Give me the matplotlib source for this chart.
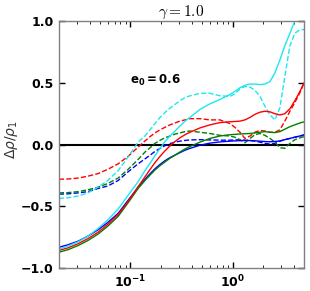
import matplotlib
matplotlib.use('Agg')
import matplotlib.pyplot as plt
import numpy as np
from matplotlib.ticker import FuncFormatter, LogLocator

# x grid (log scale)
x = [0.020, 0.0245, 0.031, 0.0385, 0.048, 0.060, 0.076, 0.095, 0.119, 0.139,
     0.156, 0.174, 0.195, 0.218, 0.244, 0.273, 0.305, 0.342, 0.383, 0.479,
     0.600, 0.751, 0.941, 1.05, 1.18, 1.32, 1.48, 1.65, 1.85, 2.07,
     2.32, 2.59, 2.90, 3.24, 3.63, 4.06, 4.55, 5.0]

# solid curves
blue_solid = [-0.83, -0.81, -0.78, -0.74, -0.69, -0.63, -0.555, -0.45, -0.345, -0.28,
              -0.235, -0.195, -0.16, -0.13, -0.105, -0.085, -0.065, -0.045, -0.03, -0.005,
              0.012, 0.022, 0.028, 0.03, 0.032, 0.033, 0.033, 0.031, 0.028, 0.025,
              0.023, 0.025, 0.03, 0.04, 0.05, 0.06, 0.07, 0.077]
green_solid = [-0.87, -0.85, -0.815, -0.775, -0.725, -0.66, -0.58, -0.47, -0.355, -0.29,
               -0.245, -0.205, -0.17, -0.14, -0.11, -0.085, -0.06, -0.035, -0.015, 0.02,
               0.05, 0.07, 0.08, 0.083, 0.086, 0.088, 0.09, 0.095, 0.1, 0.105,
               0.1, 0.097, 0.105, 0.125, 0.145, 0.16, 0.175, 0.185]
red_solid = [-0.855, -0.835, -0.80, -0.76, -0.71, -0.645, -0.565, -0.46, -0.34, -0.26,
             -0.2, -0.145, -0.095, -0.05, -0.01, 0.025, 0.055, 0.08, 0.1, 0.135,
             0.16, 0.178, 0.185, 0.187, 0.19, 0.2, 0.22, 0.245, 0.262, 0.27,
             0.265, 0.25, 0.24, 0.25, 0.29, 0.355, 0.43, 0.5]
cyan_solid = [-0.845, -0.82, -0.785, -0.74, -0.68, -0.61, -0.52, -0.41, -0.3, -0.21,
              -0.15, -0.09, -0.03, 0.025, 0.07, 0.11, 0.15, 0.19, 0.22, 0.285,
              0.33, 0.365, 0.405, 0.43, 0.46, 0.48, 0.49, 0.49, 0.485, 0.49,
              0.51, 0.58, 0.685, 0.8, 0.9, 1.0, 1.1, 1.2]

# dashed curves
blue_dash = [-0.40, -0.398, -0.39, -0.38, -0.355, -0.335, -0.29, -0.22, -0.155, -0.115,
             -0.085, -0.055, -0.03, -0.008, 0.008, 0.02, 0.028, 0.034, 0.038, 0.04,
             0.038, 0.036, 0.036, 0.038, 0.04, 0.036, 0.033, 0.028, 0.02, 0.01,
             0.004, 0.01, 0.028, 0.04, 0.05, 0.06, 0.07, 0.08]
green_dash = [-0.39, -0.388, -0.38, -0.365, -0.345, -0.315, -0.27, -0.2, -0.12, -0.06,
              -0.025, 0.01, 0.035, 0.055, 0.07, 0.085, 0.095, 0.105, 0.11, 0.1,
              0.09, 0.075, 0.07, 0.06, 0.04, 0.015, 0.05, 0.08, 0.09, 0.075,
              0.05, 0.02, -0.025, -0.03, 0.01, 0.04, 0.055, 0.065]
red_dash = [-0.28, -0.278, -0.27, -0.255, -0.235, -0.2, -0.155, -0.095, -0.02, 0.03,
            0.065, 0.095, 0.12, 0.14, 0.16, 0.175, 0.19, 0.2, 0.21, 0.21,
            0.2, 0.2, 0.17, 0.14, 0.1, 0.05, 0.07, 0.1, 0.115, 0.11,
            0.1, 0.1, 0.12, 0.19, 0.27, 0.34, 0.42, 0.5]
cyan_dash = [-0.435, -0.43, -0.415, -0.39, -0.345, -0.29, -0.21, -0.1, 0.02, 0.07,
             0.12, 0.17, 0.22, 0.26, 0.295, 0.325, 0.355, 0.38, 0.395, 0.415,
             0.415, 0.395, 0.39, 0.41, 0.45, 0.47, 0.465, 0.44, 0.39, 0.31,
             0.24, 0.2, 0.3, 0.55, 0.8, 0.9, 0.93, 0.93]

cyan = '#1ee6f0'

fig = plt.figure(figsize=(3.1, 2.91), dpi=100)
ax = fig.add_axes([0.190, 0.078, 0.791, 0.850])

ax.axhline(0.0, color='k', lw=1.5)

ax.plot(x, blue_dash, '--', color='b', lw=1)
ax.plot(x, green_dash, '--', color='g', lw=1)
ax.plot(x, red_dash, '--', color='r', lw=1)
ax.plot(x, cyan_dash, '--', color=cyan, lw=1)

ax.plot(x, blue_solid, '-', color='b', lw=1)
ax.plot(x, green_solid, '-', color='g', lw=1)
ax.plot(x, red_solid, '-', color='r', lw=1)
ax.plot(x, cyan_solid, '-', color=cyan, lw=1)

ax.set_xscale('log')
ax.set_xlim(0.02, 5.0)
ax.set_ylim(-1.0, 1.0)
ax.set_yticks([-1.0, -0.5, 0.0, 0.5, 1.0])
ax.yaxis.set_major_formatter(FuncFormatter(lambda v, p: ('%.1f' % v).replace('-', '\u2212')))
ax.xaxis.set_major_locator(LogLocator(base=10))

ax.tick_params(which='both', direction='in', top=True, right=True, color='k')
ax.tick_params(which='major', length=4, width=1, labelsize=9, pad=4)
ax.tick_params(which='minor', length=2, width=0.6)
for lab in ax.get_xticklabels() + ax.get_yticklabels():
    lab.set_fontweight('bold')

for s in ax.spines.values():
    s.set_color('#808080')
    s.set_linewidth(1)

ax.set_title(r'$\gamma = 1.0$', fontsize=11, pad=2, math_fontfamily='cm')
ax.set_ylabel(r'$\Delta\rho/\rho_1$', fontsize=10, color='#333333')
ax.yaxis.set_label_coords(-0.16, 0.52)

ax.text(0.1, 0.52, r'$\mathbf{e_0 = 0.6}$', fontsize=8.5, va='center', ha='left')

fig.savefig('out.png', dpi=100)
